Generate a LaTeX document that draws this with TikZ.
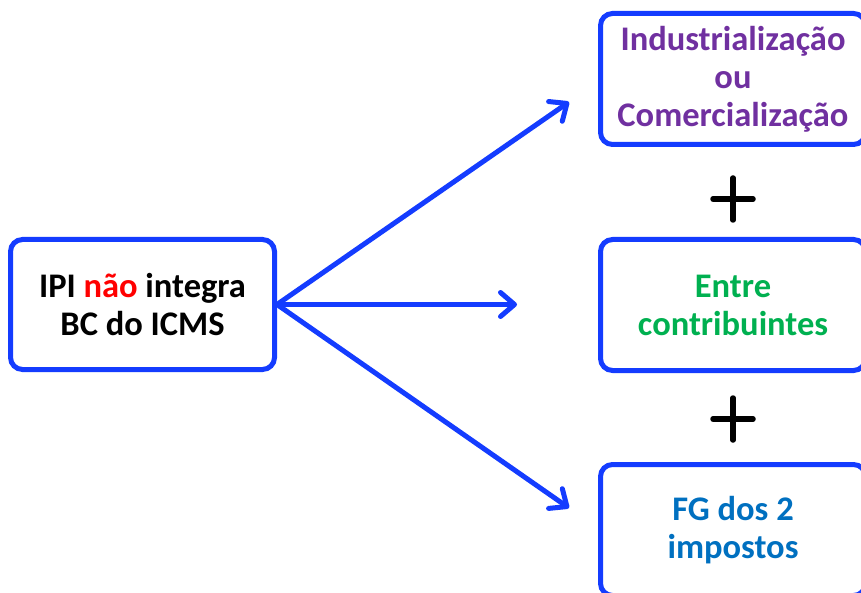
\documentclass[tikz,border=0pt]{standalone}
\usepackage{fontspec}
\setmainfont{Carlito}
\usetikzlibrary{arrows.meta}
\definecolor{bblue}{RGB}{20,60,255}
\definecolor{purp}{RGB}{112,48,160}
\definecolor{grn}{RGB}{0,176,80}
\definecolor{tblue}{RGB}{0,112,192}
\definecolor{tred}{RGB}{255,0,0}
\begin{document}
\begin{tikzpicture}[x=1pt,y=-1pt,
 box/.style={draw=bblue, line width=5pt, rounded corners=12pt, minimum width=265pt, minimum height=131pt, align=center, font=\fontsize{34.5}{38}\selectfont\bfseries, inner sep=0pt},
 arr/.style={draw=bblue, line width=5pt, line cap=round, -{Straight Barb[length=14pt, width=24pt, line cap=round, line join=round]}},
 plusline/.style={line width=5.5pt, line cap=round}]
\useasboundingbox (0,0) rectangle (861,593);
\clip (0,0) rectangle (861,593);
\node[box, minimum width=264pt, minimum height=130pt] (a) at (142.5,304.5) {IPI \textcolor{tred}{não} integra\\BC do ICMS};
\node[box, text=purp] (t) at (733,79) {Industrialização\\ou\\Comercialização};
\node[box, text=grn] (m) at (733,305) {Entre\\contribuintes};
\node[box, text=tblue] (b) at (733,530) {FG dos 2\\impostos};
\coordinate (e1) at (569,102);
\coordinate (e2) at (517,304.5);
\coordinate (e3) at (569,508);
\draw[arr] (a.east) -- (e1);
\draw[arr] (a.east) -- (e2);
\draw[arr] (a.east) -- (e3);
\coordinate (p1) at (733,199);
\coordinate (p2) at (733,419);
\draw[plusline] ([xshift=-20pt]p1) -- ([xshift=20pt]p1) ([yshift=-21pt]p1) -- ([yshift=21pt]p1);
\draw[plusline] ([xshift=-20pt]p2) -- ([xshift=20pt]p2) ([yshift=-21pt]p2) -- ([yshift=21pt]p2);
\end{tikzpicture}
\end{document}
